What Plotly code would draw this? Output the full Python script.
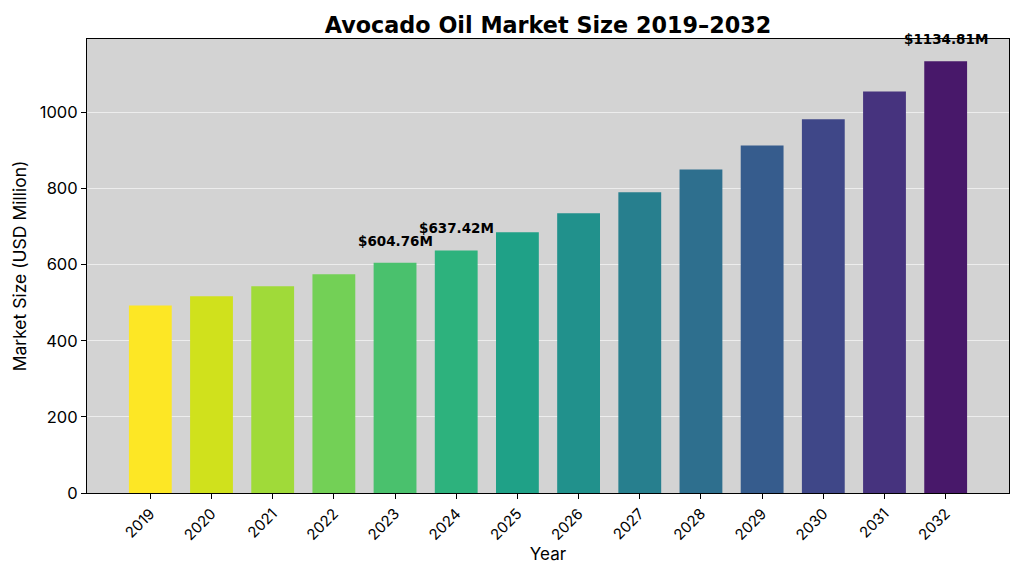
import plotly.graph_objects as go

years = ["2019", "2020", "2021", "2022", "2023", "2024", "2025", "2026",
         "2027", "2028", "2029", "2030", "2031", "2032"]
values = [493, 517, 543, 575, 604.76, 637.42, 685, 735, 790, 850, 913, 982, 1055, 1134.81]
colors = ["#fde725", "#d0e11c", "#a0da39", "#73d056", "#4ac16d", "#2db27d", "#1fa187",
          "#21918c", "#277f8e", "#2e6f8e", "#365c8d", "#3f4788", "#46337e", "#48186a"]
labeled_years = ["2023", "2024", "2032"]

fig = go.Figure()
fig.add_trace(go.Bar(x=list(range(len(years))), y=values, marker_color=colors,
                     marker_line_width=0, width=0.7))

for i, (yr, v) in enumerate(zip(years, values)):
    if yr in labeled_years:
        fig.add_annotation(x=i, y=v, text=f"${v:.2f}M", showarrow=False,
                           yanchor="middle", yshift=22,
                           font=dict(family="DejaVu Sans", size=13.5, color="black", weight="bold"))

fig.update_layout(
    width=1024, height=576,
    margin=dict(l=79, r=23, t=31, b=91, autoexpand=False),
    paper_bgcolor="white", plot_bgcolor="#d3d3d3",
    title=dict(text="<b>Avocado Oil Market Size 2019–2032</b>", x=0.5, xref="paper", xanchor="center",
               y=1 - 17 / 576, yref="container", yanchor="middle",
               font=dict(family="DejaVu Sans", size=22.3, color="black")),
    showlegend=False,
    bargap=0.3,
)
fig.update_xaxes(
    range=[-1.035, 14.035], tickmode="array", tickvals=list(range(len(years))), ticktext=years,
    tickangle=-45, ticks="outside", ticklen=5, tickcolor="black", automargin=False,
    showline=True, linecolor="black", mirror=True, linewidth=1, showgrid=False, zeroline=False,
    title=dict(text="Year", font=dict(family="Inter", size=17, color="black"), standoff=3),
    tickfont=dict(family="Inter", size=15, color="black"),
)
fig.update_yaxes(
    range=[0, 1193], tickvals=[0, 200, 400, 600, 800, 1000], ticks="outside", ticklen=5,
    tickcolor="black", automargin=False, showline=True, linecolor="black", mirror=True, linewidth=1,
    showgrid=True, gridcolor="rgba(255,255,255,0.6)", gridwidth=1, zeroline=False,
    title=dict(text="Market Size (USD Million)", font=dict(family="Inter", size=17.5, color="black"), standoff=8),
    tickfont=dict(family="Inter", size=16.5, color="black"),
)

fig.write_html("out.html")
